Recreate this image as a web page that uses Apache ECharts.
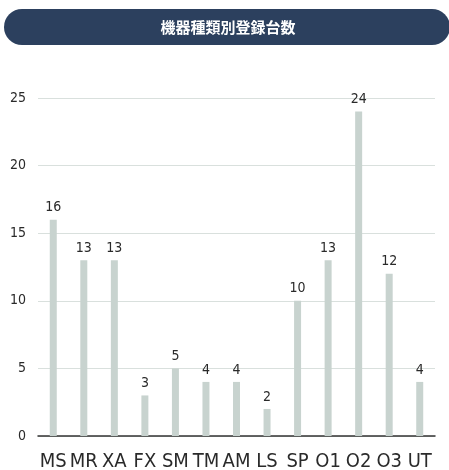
<!DOCTYPE html>
<html><head><meta charset="utf-8">
<script src="https://cdn.jsdelivr.net/npm/echarts@6/dist/echarts.min.js"></script>
<style>html,body{margin:0;padding:0;background:#fff}#c{width:449px;height:470px}</style>
</head><body><div id="c"></div>
<script>
const titleText = '機器種類別登録台数';
const categories = ['MS','MR','XA','FX','SM','TM','AM','LS','SP','O1','O2','O3','UT'];
const values = [16,13,13,3,5,4,4,2,10,13,24,12,4];
const yTicks = {min:0, max:25, interval:5};
const condensed = '"Liberation Sans Narrow", "DejaVu Sans Condensed", Roboto';

const chart = echarts.init(document.getElementById('c'));
chart.setOption({
  animation:false,
  graphic:[
    {type:'rect', shape:{x:4,y:9,width:446,height:36,r:18}, style:{fill:'#2c405e'}},
    {type:'text', x:228, y:27, style:{text:titleText, fill:'#fff', font:'bold 15px "Noto Sans CJK JP"', textAlign:'center', textVerticalAlign:'middle'}}
  ],
  grid:{left:38, right:14, top:98, bottom:34, containLabel:false, outerBoundsMode:'none'},
  xAxis:{type:'category', data:categories,
    axisLine:{lineStyle:{color:'#333', width:1.5}}, axisTick:{show:false},
    axisLabel:{color:'#2a2a2a', fontSize:20, fontFamily:condensed, margin:16, interval:0}},
  yAxis:{type:'value', min:yTicks.min, max:yTicks.max, interval:yTicks.interval,
    axisLine:{show:false}, axisTick:{show:false},
    splitLine:{lineStyle:{color:'#d9e0dd'}},
    axisLabel:{color:'#2a2a2a', fontSize:14, fontFamily:condensed, margin:12}},
  series:[{type:'bar', data:values, barWidth:7, itemStyle:{color:'#c8d3cf'},
    label:{show:true, position:'top', distance:5, color:'#2a2a2a', fontSize:14, fontFamily:condensed}}]
});
</script></body></html>
